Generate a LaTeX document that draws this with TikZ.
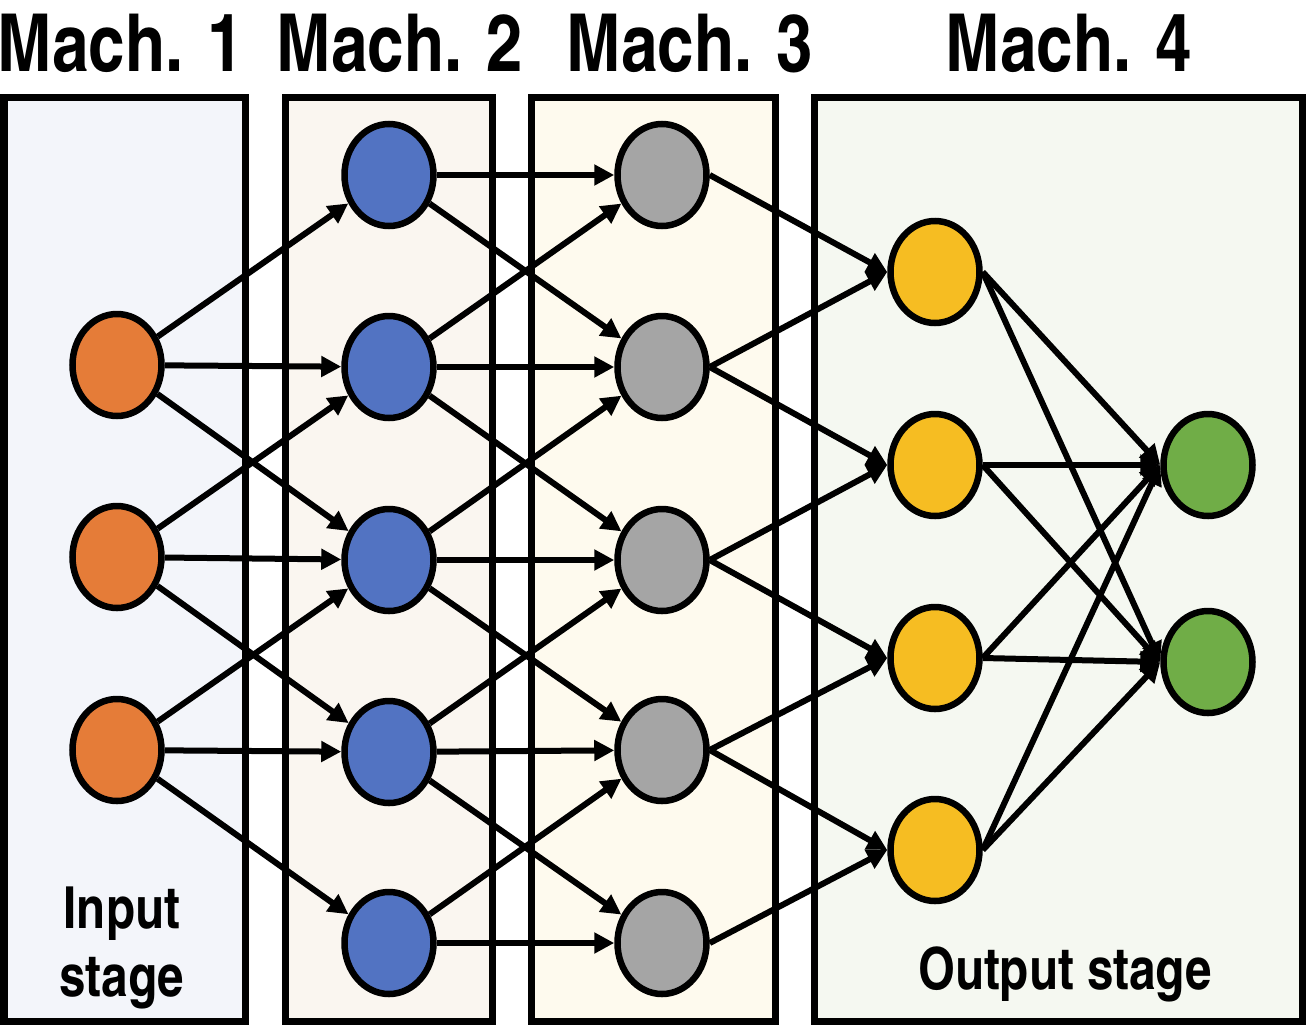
\documentclass[tikz,border=0pt]{standalone}
\usepackage{fontspec}
\newfontfamily\cnfont{texgyreheroscn-bold.otf}
\usetikzlibrary{arrows.meta,shapes.geometric}
\definecolor{boxa}{HTML}{F3F5FA}
\definecolor{boxb}{HTML}{FAF6F0}
\definecolor{boxc}{HTML}{FEFAEE}
\definecolor{boxd}{HTML}{F5F8F1}
\definecolor{corange}{HTML}{E57C38}
\definecolor{cblue}{HTML}{5273C2}
\definecolor{cgray}{HTML}{A5A5A5}
\definecolor{cyellow}{HTML}{F6BD22}
\definecolor{cgreen}{HTML}{70AD47}
\tikzset{
  stagebox/.style={draw=black, line width=7pt},
  neuron/.style={ellipse, draw=black, line width=6.5pt, minimum width=89pt, minimum height=102pt, inner sep=0pt},
  conn/.style={line width=6pt, -{Triangle[length=20pt,width=20pt]}},
  title/.style={font=\cnfont\fontsize{80}{86}\selectfont, anchor=base, inner sep=0pt},
  stagelabel/.style={font=\cnfont\fontsize{58}{68}\selectfont, align=center, inner sep=0pt},
}
\begin{document}
\begin{tikzpicture}[x=1pt,y=-1pt]
\useasboundingbox (0,0) rectangle (1307,1026);
% boxes
\draw[stagebox, fill=boxa] (4,97) rectangle (245,1021);
\draw[stagebox, fill=boxb] (285,97) rectangle (492,1021);
\draw[stagebox, fill=boxc] (531,97) rectangle (775,1021);
\draw[stagebox, fill=boxd] (814,97) rectangle (1302,1021);
% titles
\node[title] (t1) at (121,71) {Mach. 1};
\node[title] (t2) at (400,71) {Mach. 2};
\node[title] (t3) at (690,71) {Mach. 3};
\node[title] (t4) at (1069,71) {Mach. 4};
% stage labels
\node[stagelabel, anchor=base] (in1) at (122,928) {Input};
\node[stagelabel, anchor=base] (in2) at (122,996) {stage};
\node[stagelabel, anchor=base] (out) at (1065,989) {Output stage};
% neurons
\foreach \i/\y in {1/365,2/557,3/750}
  \node[neuron, fill=corange] (a\i) at (117,\y) {};
\foreach \i/\y in {1/175,2/367,3/560,4/752,5/943}
  \node[neuron, fill=cblue] (b\i) at (389,\y) {};
\foreach \i/\y in {1/175,2/367,3/560,4/750,5/943}
  \node[neuron, fill=cgray] (c\i) at (662,\y) {};
\foreach \i/\y in {1/272,2/465,3/658,4/850}
  \node[neuron, fill=cyellow] (d\i) at (935,\y) {};
\foreach \i/\y in {1/465,2/662}
  \node[neuron, fill=cgreen] (e\i) at (1208,\y) {};
% connections
\foreach \i in {1,2,3}{
  \pgfmathtruncatemacro{\ja}{\i}
  \pgfmathtruncatemacro{\jb}{\i+1}
  \pgfmathtruncatemacro{\jc}{\i+2}
  \draw[conn] (a\i) -- (b\ja);
  \draw[conn] (a\i) -- (b\jb);
  \draw[conn] (a\i) -- (b\jc);
}
\foreach \i/\j in {1/1,1/2,2/1,2/2,2/3,3/2,3/3,3/4,4/3,4/4,4/5,5/4,5/5}
  \draw[conn] (b\i) -- (c\j);
\foreach \i/\j in {1/1,2/1,2/2,3/2,3/3,4/3,4/4,5/4}
  \draw[conn] (c\i.east) -- (d\j.west);
\foreach \i in {1,2,3,4}
  \foreach \j in {1,2}
    \draw[conn] (d\i.east) -- (e\j.west);
\end{tikzpicture}
\end{document}
